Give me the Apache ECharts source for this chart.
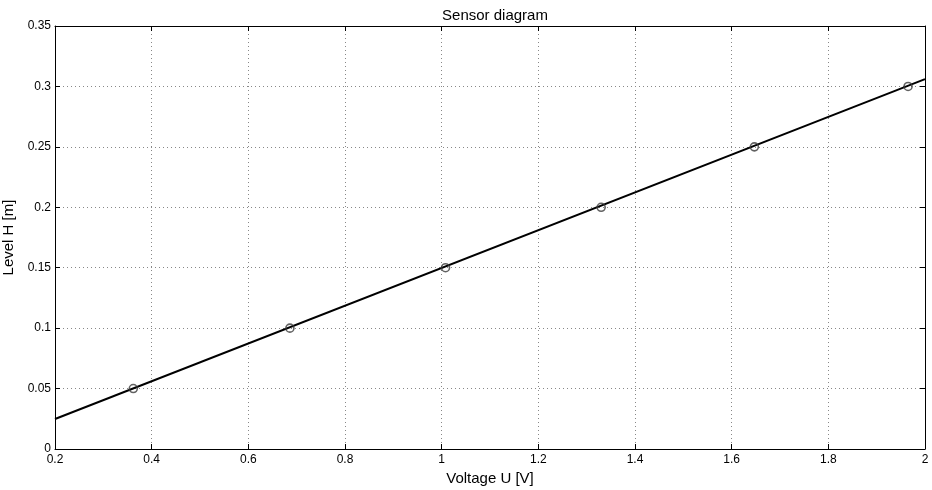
<!DOCTYPE html>
<html><head><meta charset="utf-8">
<script src="https://cdn.jsdelivr.net/npm/echarts@6/dist/echarts.min.js"></script>
<style>html,body{margin:0;padding:0;background:#fff}#c{width:932px;height:490px}</style>
</head><body><div id="c"></div>
<script>
const voltage = [0.362, 0.686, 1.008, 1.330, 1.647, 1.965];
const level = [0.05, 0.10, 0.15, 0.20, 0.25, 0.30];
const fitX = [0.2, 2.0];
const fitY = [0.0248, 0.3060];
const xTicks = [0.2,0.4,0.6,0.8,1,1.2,1.4,1.6,1.8,2];
const yTicks = [0,0.05,0.1,0.15,0.2,0.25,0.3,0.35];

const font = 'Liberation Sans, Arial, sans-serif';
const chart = echarts.init(document.getElementById('c'), null, {renderer:'canvas'});
const axisCommon = {
  axisLine:{show:true,onZero:false,lineStyle:{color:'#000',width:1}},
  axisTick:{show:true,inside:true,length:5,lineStyle:{color:'#000'}},
};
chart.setOption({
  animation:false,
  title:{text:'Sensor diagram',left:490,textAlign:'center',top:3,textStyle:{fontFamily:font,fontSize:15,fontWeight:'normal',color:'#000'}},
  grid:{left:55,right:7,top:26,bottom:41,containLabel:false,outerBoundsMode:'none'},
  xAxis:[{
    type:'value',min:0.2,max:2,interval:0.2,position:'bottom',
    name:'Voltage U [V]',nameLocation:'middle',nameGap:19,
    nameTextStyle:{fontFamily:font,fontSize:15,color:'#000'},
    ...axisCommon,
    axisLabel:{fontFamily:font,fontSize:12,color:'#000',margin:5,formatter:v=>String(+v.toFixed(2))},
    splitLine:{show:true,lineStyle:{color:'#888',type:[1,3],width:1}}
  },{
    type:'value',min:0.2,max:2,interval:0.2,position:'top',
    ...axisCommon,axisLabel:{show:false},splitLine:{show:false}
  }],
  yAxis:[{
    type:'value',min:0,max:0.35,interval:0.05,position:'left',
    name:'Level H [m]',nameLocation:'middle',nameGap:33,nameRotate:90,
    nameTextStyle:{fontFamily:font,fontSize:15,color:'#000'},
    ...axisCommon,
    axisLabel:{fontFamily:font,fontSize:12,color:'#000',margin:4,formatter:v=>String(+v.toFixed(2))},
    splitLine:{show:true,lineStyle:{color:'#888',type:[1,3],width:1}}
  },{
    type:'value',min:0,max:0.35,interval:0.05,position:'right',
    ...axisCommon,axisLabel:{show:false},splitLine:{show:false}
  }],
  series:[{
    type:'line',data:fitX.map((x,i)=>[x,fitY[i]]),showSymbol:false,
    lineStyle:{color:'#000',width:2},z:2
  },{
    type:'scatter',data:voltage.map((x,i)=>[x,level[i]]),symbol:'circle',symbolSize:8,
    itemStyle:{color:'transparent',borderColor:'#3a3a3a',borderWidth:1.6},z:3
  }]
});
</script></body></html>
